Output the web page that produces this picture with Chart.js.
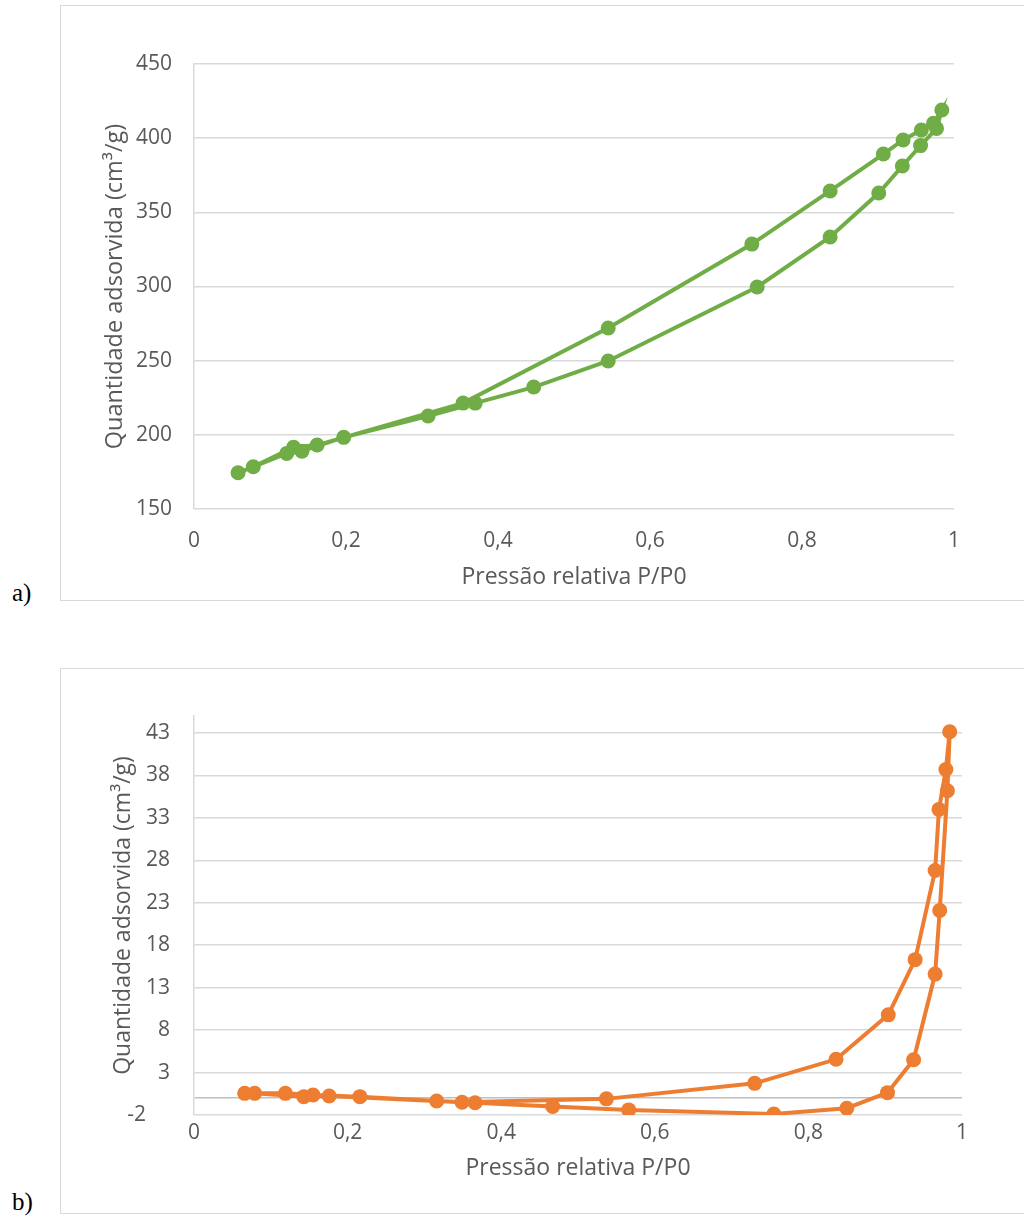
<!DOCTYPE html>
<html>
<head>
<meta charset="utf-8">
<script src="https://cdn.jsdelivr.net/npm/chart.js@4.4.1/dist/chart.umd.min.js"></script>
<style>
  body { margin: 0; background: #fff; width: 1024px; height: 1218px; overflow: hidden; position: relative; }
  .frame { position: absolute; left: 60px; width: 980px; border: 1px solid #d9d9d9; background: #fff; }
  .tag { position: absolute; left: 12px; font-family: "Liberation Serif", serif; font-size: 25px; color: #000; }
</style>
</head>
<body>
<div class="frame" style="top:5px;height:594px;"><canvas id="chartA"></canvas></div>
<div class="frame" style="top:668px;height:544px;"><canvas id="chartB"></canvas></div>
<div class="tag" style="top:579px;">a)</div>
<div class="tag" style="top:1188px;">b)</div>
<script>
// eixo X comum
const xTicks = [0, 0.2, 0.4, 0.6, 0.8, 1];
const xTickLabels = ['0', '0,2', '0,4', '0,6', '0,8', '1'];

// a) adsorção + dessorção (uma série, em ordem)
const pA = [0.058, 0.122, 0.142, 0.197, 0.308, 0.370, 0.447, 0.545, 0.741, 0.837, 0.901, 0.932, 0.956, 0.977, 0.984,
            0.973, 0.957, 0.933, 0.907, 0.837, 0.734, 0.545, 0.354, 0.162, 0.131, 0.078];
const qA = [174.4, 187.5, 189.0, 198.3, 212.7, 221.4, 232.2, 249.8, 299.7, 333.4, 363.0, 381.2, 395.0, 406.6, 419.0,
            410.0, 405.5, 398.8, 389.3, 364.4, 328.6, 272.0, 221.4, 193.1, 191.6, 178.5];
const yTicksA = [150, 200, 250, 300, 350, 400, 450];

// b)
const pB = [0.066, 0.119, 0.155, 0.216, 0.316, 0.366, 0.467, 0.566, 0.755, 0.850, 0.903, 0.937, 0.965, 0.971, 0.981, 0.984,
            0.979, 0.970, 0.965, 0.939, 0.904, 0.836, 0.730, 0.537, 0.349, 0.176, 0.143, 0.079];
const qB = [0.55, 0.55, 0.36, 0.16, -0.35, -0.55, -1.0, -1.4, -1.88, -1.2, 0.63, 4.5, 14.6, 22.1, 36.2, 43.15,
            38.7, 34.0, 26.8, 16.3, 9.8, 4.56, 1.73, -0.1, -0.5, 0.24, 0.16, 0.55];
const yTicksB = [-2, 3, 8, 13, 18, 23, 28, 33, 38, 43];

const xTitle = 'Pressão relativa P/P0';
const yTitle = 'Quantidade adsorvida (cm³/g)';

const FONT = '"Open Sans", sans-serif';
const GREY = '#595959';

function makeChart(id, w, h, xs, ys, color, yMin, yMax, yTicks, lay) {
  const cv = document.getElementById(id);
  cv.width = w; cv.height = h;
  cv.style.width = w + 'px'; cv.style.height = h + 'px';
  return new Chart(cv.getContext('2d'), {
    type: 'scatter',
    data: {
      datasets: [{
        data: xs.map((x, i) => ({ x: x, y: ys[i] })),
        showLine: true,
        borderColor: color,
        backgroundColor: color,
        borderWidth: 4,
        pointRadius: 7.5,
        pointHoverRadius: 7.5,
        pointBorderWidth: 0,
        tension: 0
      }]
    },
    options: {
      responsive: false,
      animation: false,
      layout: { padding: { left: 0, top: lay.top, right: lay.right, bottom: 0 } },
      plugins: { legend: { display: false }, tooltip: { enabled: false } },
      scales: {
        x: {
          type: 'linear', min: 0, max: 1,
          afterBuildTicks: s => { s.ticks = xTicks.map(v => ({ value: v })); },
          afterFit: s => { s.height = lay.xh; },
          grid: { display: false, drawTicks: false },
          border: { display: false },
          ticks: {
            padding: lay.xtp,
            color: GREY, font: { family: FONT, size: 21 },
            callback: (v, i) => xTickLabels[i]
          },
          title: {
            display: true, text: xTitle, color: GREY,
            font: { family: FONT, size: 23 },
            padding: { top: 0, bottom: lay.xtb }
          }
        },
        y: {
          type: 'linear', min: yMin, max: yMax,
          afterBuildTicks: s => {
            const t = yTicks.slice();
            if (lay.zero) t.push(0);
            s.ticks = t.sort((a, b) => a - b).map(v => ({ value: v }));
          },
          afterFit: s => { s.width = 133; },
          grid: {
            drawTicks: false, lineWidth: 1.5,
            color: c => (lay.zero && c.tick && c.tick.value === 0) ? '#bfbfbf' : '#d9d9d9'
          },
          border: { display: true, color: '#d9d9d9', width: 1.5 },
          ticks: {
            padding: lay.ytp,
            color: GREY, font: { family: FONT, size: 21 },
            // rótulo negativo deslocado como no original
            callback: v => (lay.zero && v === 0) ? '' : (v < 0 ? String(v) + '\u2007\u2007' : String(v))
          },
          title: {
            display: true, text: yTitle, color: GREY,
            font: { family: FONT, size: lay.ytf },
            padding: { top: lay.ytt, bottom: 0 }
          }
        }
      }
    }
  });
}

makeChart('chartA', 979, 594, pA, qA, '#70AD47', 150, 450, yTicksA,
  { top: 58, right: 86, xh: 91, xtp: 19, xtb: 9, ytp: 22, ytt: 40, ytf: 23.5, zero: false });
makeChart('chartB', 979, 544, pB, qB, '#ED7D31', -2, 45, yTicksB,
  { top: 47, right: 78, xh: 98, xtp: 5, xtb: 31, ytp: 24, ytt: 49, ytf: 23, zero: true });
</script>
</body>
</html>
